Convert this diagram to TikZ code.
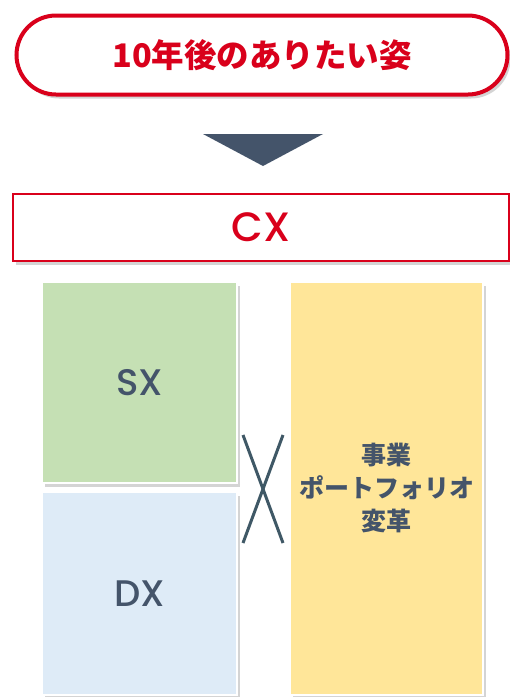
\documentclass[tikz,border=0pt]{standalone}
\usepackage{fontspec}
\setmainfont{Noto Sans CJK JP}
\newfontfamily\jpm{Noto Sans CJK JP Medium}
\newfontfamily\lat{Poppins Medium}
\usetikzlibrary{shadows}
\definecolor{cred}{HTML}{D9001B}
\definecolor{slate}{HTML}{44546A}
\definecolor{crossc}{HTML}{3F5866}
\definecolor{sxg}{HTML}{C5E0B4}
\definecolor{dxb}{HTML}{DEEBF7}
\definecolor{yel}{HTML}{FFE699}
\tikzset{
  shad/.style={drop shadow={shadow xshift=3pt,shadow yshift=-4pt,opacity=0.28,fill=black!60}},
  cell/.style={draw=white,line width=1.5,shad,text=slate,font=\lat\fontsize{37}{40}\selectfont,inner sep=0},
}
\begin{document}
\begin{tikzpicture}[x=1pt,y=-1pt]
\useasboundingbox (0,0) rectangle (510,697);
\fill[white] (0,0) rectangle (510,697);
% title pill
\node[draw=cred,line width=4,fill=white,rounded corners=39.5,minimum width=491,minimum height=79,shad,
  text=cred,font=\bfseries\fontsize{32.5}{36}\selectfont,inner sep=0] (goal) at (262,55) {10年後のありたい姿};
% arrow triangle
\coordinate (tl) at (203,134);
\coordinate (tr) at (323,134);
\coordinate (tb) at (263,166);
\fill[slate] (tl) -- (tr) -- (tb) -- cycle;
% CX
\node[draw=cred,line width=2.5,fill=white,minimum width=496,minimum height=67,shad,
  text=cred,font=\lat\fontsize{41}{46}\selectfont,inner sep=0] (cx) at (261,227.5) {CX};
% SX, DX, portfolio
\node[cell,fill=sxg,minimum width=195,minimum height=201] (sx) at (139.5,382.5) {SX};
\node[cell,fill=dxb,minimum width=195,minimum height=203] (dx) at (139.5,593.5) {DX};
\node[cell,fill=yel,minimum width=193,minimum height=413,align=center,
  font=\bfseries\fontsize{25}{33}\selectfont] (pf) at (386.5,488.5) {事業\\ポートフォリオ\\変革};
% cross
\coordinate (a1) at (243,435);
\coordinate (a2) at (283,543);
\coordinate (b1) at (283,435);
\coordinate (b2) at (243,543);
\draw[crossc,line width=3] (a1) -- (a2);
\draw[crossc,line width=3] (b1) -- (b2);
\end{tikzpicture}
\end{document}
